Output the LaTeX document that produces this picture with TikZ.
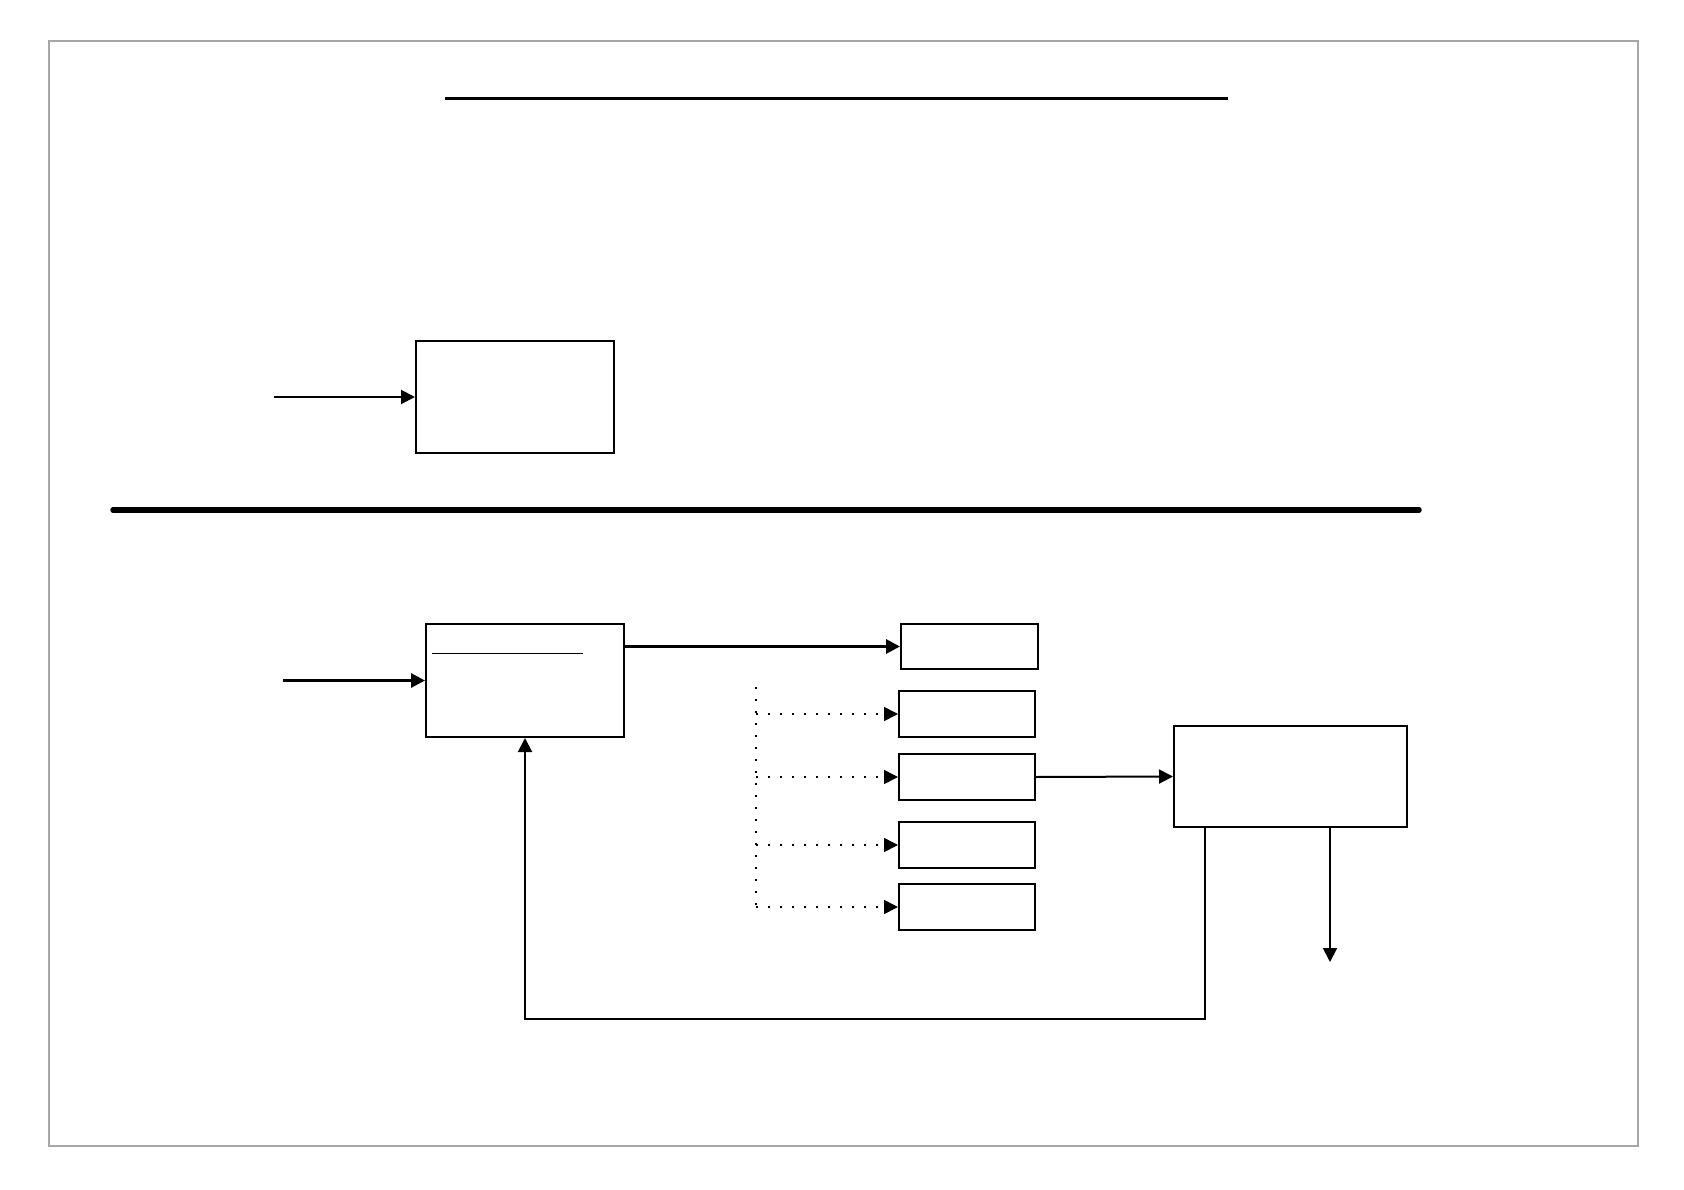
\documentclass[tikz,border=0pt]{standalone}
\usetikzlibrary{arrows.meta}
\begin{document}
\begin{tikzpicture}[x=1pt,y=-1pt,
  blockbox/.style={draw,line width=2pt,rectangle,inner sep=0pt,minimum width=#1},
  arr/.style={line width=2pt,-{Triangle[length=14pt,width=14pt]}},
  dotarr/.style={line width=1.6pt,dash pattern=on 1.6pt off 10.4pt,-{Triangle[length=14pt,width=14pt]}},
  plain/.style={line width=2pt}]
\useasboundingbox (0,0) rectangle (1684,1190);
\draw[line width=1.4pt,color=black!35] (49,41) rectangle (1638,1146);
% rules
\draw[line width=3pt] (445,99) -- (1228,99);
\draw[line width=5.5pt,line cap=round] (113,510) -- (1419,510);
% upper box
\node[blockbox=198pt,minimum height=112pt] (A) at (515,397) {};
\coordinate (inA) at (274,397);
\draw[arr] (inA) -- (A.west);
% lower section
\node[blockbox=198pt,minimum height=113pt] (B) at (525,680.5) {};
\draw[line width=1pt] ([shift={(7,30)}]B.north west) -- ([shift={(158,30)}]B.north west);
\coordinate (inB) at (283,680.5);
\draw[arr,line width=3pt] (inB) -- (B.west);
\node[blockbox=137pt,minimum height=45pt] (C1) at (969.5,646.5) {};
\node[blockbox=136pt,minimum height=46pt] (C2) at (967,714) {};
\node[blockbox=136pt,minimum height=46pt] (C3) at (967,777) {};
\node[blockbox=136pt,minimum height=46pt] (C4) at (967,845) {};
\node[blockbox=136pt,minimum height=46pt] (C5) at (967,907) {};
\draw[arr,line width=3pt] (B.east |- C1.west) -- (C1.west);
\coordinate (dtop) at (756,687);
\coordinate (dbot) at (756,907);
\draw[line width=1.6pt,dash pattern=on 1.6pt off 10.4pt] (dtop) -- (dbot);
\foreach \c in {C2,C3,C4,C5} {
  \draw[dotarr] (dtop |- \c.west) -- (\c.west);
}
\node[blockbox=233pt,minimum height=101pt] (D) at (1290.5,776.5) {};
\draw[arr] (C3.east) -- (D.west);
\coordinate (fb) at (1205,1019);
\draw[arr] (D.south -| fb) -- (fb) -- (B.south |- fb) -- (B.south);
\coordinate (out) at (1330,962);
\draw[arr] (D.south -| out) -- (out);
\end{tikzpicture}
\end{document}
